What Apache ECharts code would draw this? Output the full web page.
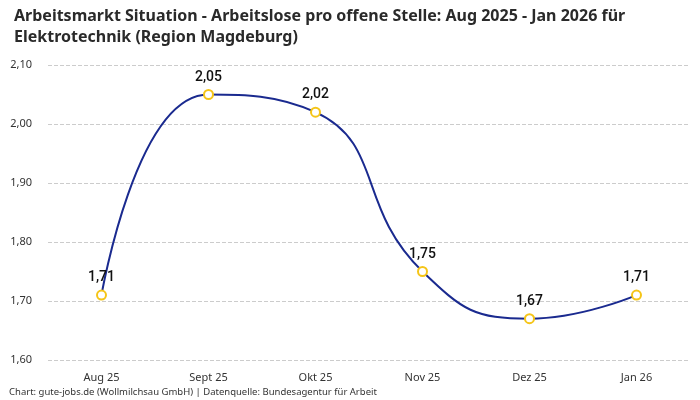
<!DOCTYPE html>
<html><head><meta charset="utf-8">
<script src="https://cdn.jsdelivr.net/npm/echarts@6/dist/echarts.min.js"></script>
<style>html,body{margin:0;padding:0;background:#fff}#c{width:700px;height:400px}</style>
</head><body><div id="c"></div>
<script>
const categories = ['Aug 25','Sept 25','Okt 25','Nov 25','Dez 25','Jan 26'];
const values = [1.71, 2.05, 2.02, 1.75, 1.67, 1.71];
const titleText = 'Arbeitsmarkt Situation - Arbeitslose pro offene Stelle: Aug 2025 - Jan 2026 für\nElektrotechnik (Region Magdeburg)';
const footerText = 'Chart: gute-jobs.de (Wollmilchsau GmbH) | Datenquelle: Bundesagentur für Arbeit';
const fmt = v => v.toFixed(2).replace('.', ',');
const chart = echarts.init(document.getElementById('c'));
chart.setOption({
  animation:false,
  textStyle:{fontFamily:'Noto Sans'},
  title:[{text:titleText,left:9,top:1,textStyle:{fontSize:16,fontWeight:'bold',color:'#2a2a2a',lineHeight:21,fontFamily:'Noto Sans'}},
         {text:footerText,left:9,top:387,padding:0,textStyle:{fontSize:9.5,fontWeight:'normal',color:'#333',fontFamily:'Noto Sans'}}],
  grid:{left:48,right:10,top:65,bottom:40},
  xAxis:{type:'category',data:categories,boundaryGap:true,
    axisLine:{show:false},axisTick:{show:false},
    axisLabel:{color:'#333',fontSize:11,margin:12}},
  yAxis:{type:'value',min:1.6,max:2.1,interval:0.1,
    axisLabel:{formatter:v=>fmt(v),color:'#333',fontSize:11,margin:16,align:'right'},
    splitLine:{lineStyle:{type:'dashed',color:'#ccc'}}},
  series:[{type:'line',data:values,smooth:true,
    lineStyle:{color:'#1a2a8f',width:2},
    itemStyle:{color:'#fff',borderColor:'#f5c518',borderWidth:2},
    symbol:'circle',symbolSize:9,
    label:{show:true,position:'top',formatter:p=>fmt(p.value),fontSize:14,fontWeight:500,fontFamily:'Roboto',color:'#111',distance:5}}]
});
</script></body></html>
